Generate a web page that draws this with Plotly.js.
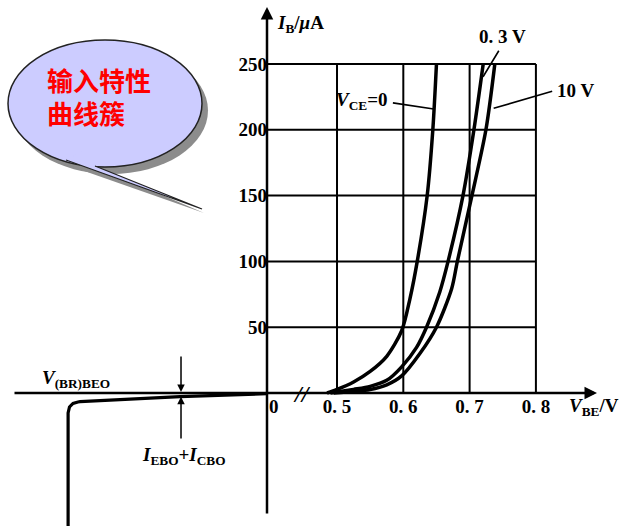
<!DOCTYPE html>
<html><head><meta charset="utf-8">
<script src="https://cdn.plot.ly/plotly-3.0.1.min.js"></script>
<style>html,body{margin:0;padding:0;background:#fff}#chart{width:621px;height:526px}</style>
</head><body><div id="chart"></div>
<script>
// ---- tick values ----
const xTickVolts = [0.5, 0.6, 0.7, 0.8];
const xTickText = ["0. 5", "0. 6", "0. 7", "0. 8"];
const yTickVals = [50, 100, 150, 200, 250];
const yTickText = ["50", "100", "150", "200", "250"];

// ---- input characteristic curves (V_BE in V, I_B in µA) ----
const vce0_V = [0.485, 0.5, 0.525, 0.55, 0.575, 0.5975, 0.61, 0.621, 0.636, 0.6445, 0.650];
const vce0_I = [0, 2.7, 8.4, 16.4, 27.9, 47.3, 71.6, 100, 150, 200, 250];

const vce03_V = [0.49, 0.525, 0.55, 0.575, 0.5975, 0.62, 0.635, 0.655, 0.6675, 0.690, 0.7065, 0.7205];
const vce03_I = [0, 2.7, 5, 9.6, 19.9, 34.7, 50, 76.8, 100, 150, 200, 250];

const vce10_V = [0.495, 0.55, 0.575, 0.5975, 0.625, 0.65, 0.673, 0.6815, 0.7035, 0.7246, 0.738];
const vce10_I = [0, 2.7, 6.2, 13, 30, 50, 79.4, 100, 150, 200, 250];

// reverse-bias region (left of the broken axis, in axis units; not to scale)
const rev_U = [-0.30, -0.30, -0.2979, -0.2926, -0.2851, -0.282, -0.1312, 0];
const rev_I = [-101, -15.2, -10.6, -7.9, -6.8, -6.6, -2.8, -0.5];

// ---- broken axis mapping: 0 V at 0, then a gap, 0.5 V onward linear ----
const BREAK_FROM = 0.5, BREAK_AT = 0.1056;
function toU(v) { return v - BREAK_FROM + BREAK_AT; }

const W = 621, H = 526;
function px(x) { return x / W; }
function py(y) { return 1 - y / H; }

const SERIF = 'Liberation Serif';
const black = '#000';

const traces = [];
// grid lines
yTickVals.forEach(v => traces.push({
  x: [0, toU(xTickVolts[xTickVolts.length - 1])], y: [v, v], mode: 'lines',
  line: { color: black, width: 2 }, hoverinfo: 'skip'
}));
xTickVolts.forEach(v => traces.push({
  x: [toU(v), toU(v)], y: [0, yTickVals[yTickVals.length - 1]], mode: 'lines',
  line: { color: black, width: 2 }, hoverinfo: 'skip'
}));
// curves
[[vce0_V, vce0_I], [vce03_V, vce03_I], [vce10_V, vce10_I]].forEach(([V, I]) => traces.push({
  x: V.map(toU), y: I, mode: 'lines',
  line: { color: black, width: 3.5, shape: 'spline', smoothing: 0.8 }, hoverinfo: 'skip'
}));
traces.push({ x: rev_U, y: rev_I, mode: 'lines', line: { color: black, width: 3.2 }, hoverinfo: 'skip' });

const fontT = { family: SERIF, size: 19, color: black, weight: 'bold' };

function label(text, x, y, xanchor, size) {
  return { text, x, y, xref: 'x', yref: 'y', showarrow: false, xanchor: xanchor || 'center', yanchor: 'middle',
    font: Object.assign({}, fontT, size ? { size } : {}) };
}
function line(x, y, ax, ay, head, width) {
  return { text: '', x, y, ax, ay, xref: 'x', yref: 'y', axref: 'x', ayref: 'y', showarrow: true,
    arrowhead: head, arrowsize: 1, arrowwidth: width, arrowcolor: black, standoff: 0, startstandoff: 0 };
}

const annotations = [
  // axes with arrows
  line(0.4977, 0, -0.3831, 0, 2, 2.5),
  line(0, 293.3, 0, -92.7, 2, 2.5),
  // leader lines
  line(toU(0.7203), 240.3, toU(0.7454), 261.2, 0, 1.6),
  line(toU(0.7363), 216.3, toU(0.8268), 229.7, 0, 1.6),
  line(toU(0.6458), 215.8, toU(0.582), 220.6, 0, 1.6),
  // I_EBO + I_CBO arrows
  line(-0.1297, 0.8, -0.1297, 28.9, 2, 1.5),
  line(-0.1297, -2.8, -0.1297, -35.7, 2, 1.5),
  // labels
  label('<i>I</i><sub>B</sub>/<i>μ</i>A', 0.0121, 280.4, 'left'),
  label('0. 3 V', toU(0.749), 271),
  label('10 V', 0.4344, 230.2, 'left'),
  label('<i>V</i><sub>CE</sub>=0', 0.1855, 221.9, 'right'),
  label('0', 0.0106, -10.6),
  label('<i>V</i><sub>BE</sub>/V', 0.4525, -10.6, 'left'),
  label('<i>V</i><sub>(BR)BEO</sub>', -0.3424, 10.6, 'left'),
  label('<i>I</i><sub>EBO</sub>+<i>I</i><sub>CBO</sub>', -0.1252, -47.9),
  label('<i>//</i>', 0.0528, -0.8, 'center', 24),
  // callout text
  { text: '输入特性', x: px(45), y: py(80), xref: 'paper', yref: 'paper', xanchor: 'left', yanchor: 'middle', showarrow: false,
    font: { family: 'Noto Sans CJK SC', size: 26, color: '#ff0000', weight: 'bold' } },
  { text: '曲线簇', x: px(45), y: py(112), xref: 'paper', yref: 'paper', xanchor: 'left', yanchor: 'middle', showarrow: false,
    font: { family: 'Noto Sans CJK SC', size: 26, color: '#ff0000', weight: 'bold' } }
];

function pathP(pts, close) {
  return pts.map((p, i) => (i ? 'L ' : 'M ') + px(p[0]) + ' ' + py(p[1])).join(' ') + (close ? ' Z' : '');
}
const shadowC = '#8c8c8c', fillC = '#ccccff';
const shapes = [
  { type: 'circle', xref: 'paper', yref: 'paper', x0: px(14), x1: px(208), y0: py(174), y1: py(47), fillcolor: shadowC, line: { width: 0 }, layer: 'above' },
  { type: 'path', xref: 'paper', yref: 'paper', path: pathP([[70, 166], [204, 213], [100, 168]], true), fillcolor: shadowC, line: { width: 0 }, layer: 'above' },
  { type: 'circle', xref: 'paper', yref: 'paper', x0: px(8), x1: px(202), y0: py(167), y1: py(40), fillcolor: fillC, line: { color: '#222', width: 1.5 }, layer: 'above' },
  { type: 'path', xref: 'paper', yref: 'paper', path: pathP([[66, 160], [202, 209], [95, 166], [85, 150]], true), fillcolor: fillC, line: { width: 0 }, layer: 'above' },
  { type: 'path', xref: 'paper', yref: 'paper', path: pathP([[66, 160], [202, 209], [95, 166]], false), line: { color: '#222', width: 1.3 }, layer: 'above' }
];

const layout = {
  width: W, height: H, margin: { l: 0, r: 0, t: 0, b: 0 },
  paper_bgcolor: '#fff', plot_bgcolor: '#fff', showlegend: false, hovermode: false,
  xaxis: { range: [-267 / 663, 354 / 663], anchor: 'free', position: py(393), showgrid: false, zeroline: false, showline: false,
    tickvals: xTickVolts.map(toU), ticktext: xTickText, ticks: '', tickfont: fontT },
  yaxis: { range: [-101.06, 298.63], anchor: 'free', position: px(267), showgrid: false, zeroline: false, showline: false,
    tickvals: yTickVals, ticktext: yTickText, ticks: '', tickfont: fontT },
  annotations, shapes
};

Plotly.newPlot('chart', traces, layout, { staticPlot: true, displayModeBar: false });
</script></body></html>
